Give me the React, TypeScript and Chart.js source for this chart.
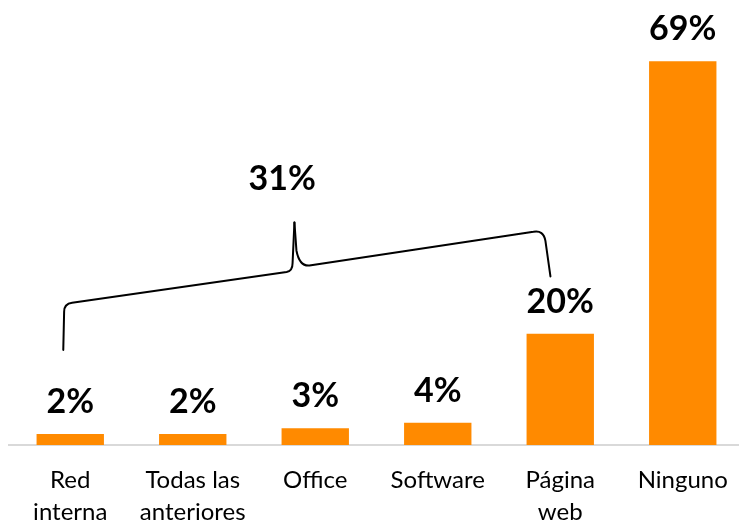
import React, { useEffect, useRef } from "react";
import { Chart, registerables } from "chart.js";

Chart.register(...registerables);

const categories: string[][] = [
  ["Red", "interna"],
  ["Todas las", "anteriores"],
  ["Office"],
  ["Software"],
  ["Página", "web"],
  ["Ninguno"],
];
const values: number[] = [2, 2, 3, 4, 20, 69];
const groupTotalLabel = "31%";

const BAR_COLOR = "#FF8A00";
const FONT = "Lato, 'Open Sans', sans-serif";

const valueLabelPlugin = {
  id: "valueLabels",
  afterDatasetsDraw(chart: any) {
    const ctx = chart.ctx;
    const meta = chart.getDatasetMeta(0);
    ctx.save();
    ctx.font = `bold 34px ${FONT}`;
    ctx.fillStyle = "#000";
    ctx.textAlign = "center";
    ctx.textBaseline = "alphabetic";
    meta.data.forEach((bar: any, i: number) => {
      ctx.fillText(`${values[i]}%`, bar.x, bar.y - 21);
    });
    ctx.restore();
  },
};

const bracePlugin = {
  id: "brace",
  afterDatasetsDraw(chart: any) {
    const xs = chart.scales.x;
    const ys = chart.scales.y;
    const P = (i: number, v: number) => [xs.getPixelForValue(i), ys.getPixelForValue(v)];
    const ctx = chart.ctx;
    ctx.save();
    ctx.strokeStyle = "#000";
    ctx.lineWidth = 2;
    ctx.lineJoin = "round";
    ctx.lineCap = "round";
    const A = P(-0.057, 17.1);
    const B = P(-0.05, 25.4);
    const C = P(1.815, 31.3);
    const T = P(1.83, 40.0);
    const D = P(1.92, 32.1);
    const E = P(3.83, 38.5);
    const F = P(3.92, 30.3);
    // left arm
    ctx.beginPath();
    ctx.moveTo(A[0], A[1]);
    ctx.lineTo(B[0], B[1] + 8);
    ctx.quadraticCurveTo(B[0], B[1], B[0] + 8, B[1] - 1);
    ctx.lineTo(C[0] - 6, C[1] + 1);
    ctx.quadraticCurveTo(C[0], C[1], C[0], C[1] - 8);
    ctx.lineTo(T[0], T[1]);
    ctx.stroke();
    // right arm
    ctx.beginPath();
    ctx.moveTo(T[0], T[1]);
    ctx.lineTo(T[0] + 2, D[1] - 16);
    ctx.quadraticCurveTo(T[0] + 5, D[1], D[0] + 4, D[1] - 1);
    ctx.lineTo(E[0] - 6, E[1] + 1);
    ctx.quadraticCurveTo(E[0] + 4, E[1] - 1, E[0] + 6, E[1] + 10);
    ctx.lineTo(F[0], F[1]);
    ctx.stroke();
    // label
    const L = P(1.73, 47.9);
    ctx.font = `bold 34px ${FONT}`;
    ctx.fillStyle = "#000";
    ctx.textAlign = "center";
    ctx.textBaseline = "middle";
    ctx.fillText(groupTotalLabel, L[0], L[1]);
    ctx.restore();
  },
};

export default function App() {
  const ref = useRef<HTMLCanvasElement>(null);
  useEffect(() => {
    if (!ref.current) return;
    const chart = new Chart(ref.current, {
      type: "bar",
      data: {
        labels: categories,
        datasets: [
          {
            data: values,
            backgroundColor: BAR_COLOR,
            borderWidth: 0,
            barPercentage: 0.55,
            categoryPercentage: 1,
          },
        ],
      },
      options: {
        responsive: false,
        animation: false,
        devicePixelRatio: 1,
        layout: { padding: { left: 9, right: 6, top: 0, bottom: 0 } },
        plugins: { legend: { display: false }, tooltip: { enabled: false } },
        scales: {
          x: {
            grid: { display: false },
            border: { display: true, color: "#D9D9D9", width: 2 },
            ticks: {
              color: "#000",
              padding: 11,
              maxRotation: 0,
              autoSkip: false,
              font: { family: FONT, size: 24, lineHeight: 1.33 },
            },
            afterFit(axis: any) {
              axis.height = 78;
            },
          },
          y: {
            display: false,
            min: 0,
            max: 80,
          },
        },
      },
      plugins: [valueLabelPlugin, bracePlugin],
    });
    return () => chart.destroy();
  }, []);
  return (
    <div style={{ position: "fixed", left: 0, top: 0, width: 739, height: 523, overflow: "hidden", background: "#fff" }}>
      <canvas ref={ref} width={750} height={523} style={{ display: "block" }} />
    </div>
  );
}
